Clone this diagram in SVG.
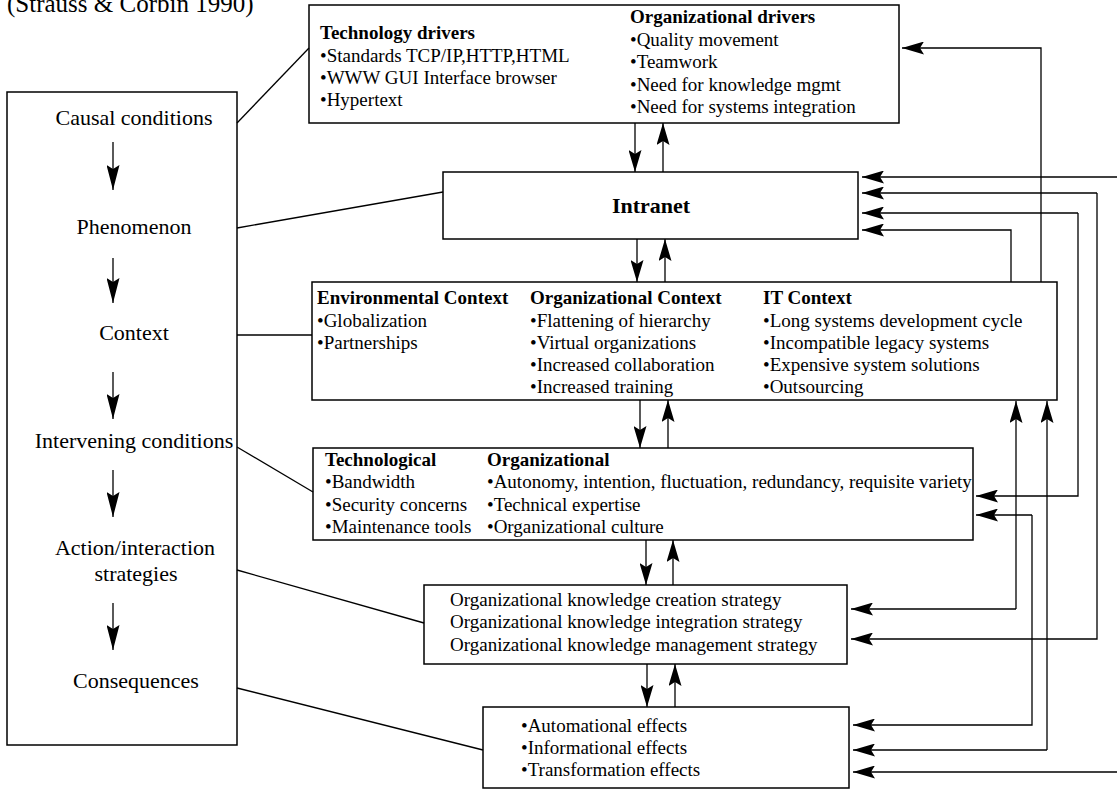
<svg xmlns="http://www.w3.org/2000/svg" width="1117" height="791" viewBox="0 0 1117 791">
<defs>
<style>
.box{fill:#fff;stroke:#000;stroke-width:1.5}
.ln{fill:none;stroke:#000;stroke-width:1.3}
.t{font-family:"Liberation Serif","Times New Roman",serif;font-size:19px;fill:#000}
.b{font-weight:bold}
.L{font-family:"Liberation Serif","Times New Roman",serif;font-size:22px;fill:#000;text-anchor:middle}
.a{marker-end:url(#ah)}
.aL{marker-end:url(#ahL)}
</style>
<marker id="ah" markerUnits="userSpaceOnUse" markerWidth="22" markerHeight="13" viewBox="0 0 22 13" refX="22" refY="6.5" orient="auto"><path d="M0,0 L22,6.5 L0,13 L4,6.5 z" fill="#000"/></marker>
<marker id="ahL" markerUnits="userSpaceOnUse" markerWidth="25" markerHeight="13" viewBox="0 0 25 13" refX="25" refY="6.5" orient="auto"><path d="M0,0 L25,6.5 L0,13 L4,6.5 z" fill="#000"/></marker>
</defs>
<rect width="1117" height="791" fill="#fff"/>
<text x="7" y="12" font-family="Liberation Serif, Times New Roman, serif" font-size="25">(Strauss &amp; Corbin 1990)</text>

<g id="paradigm">
<rect class="box" x="7" y="92" width="230" height="653"/>
<text class="L" x="134" y="125">Causal conditions</text>
<text class="L" x="134" y="234">Phenomenon</text>
<text class="L" x="134" y="340">Context</text>
<text class="L" x="134" y="448">Intervening conditions</text>
<text class="L" x="135" y="555">Action/interaction</text>
<text class="L" x="136" y="581">strategies</text>
<text class="L" x="136" y="688">Consequences</text>
<line class="ln aL" x1="113" y1="142" x2="113" y2="190"/>
<line class="ln aL" x1="113" y1="258" x2="113" y2="303"/>
<line class="ln aL" x1="113" y1="372" x2="113" y2="419"/>
<line class="ln aL" x1="113" y1="470" x2="113" y2="517"/>
<line class="ln aL" x1="113" y1="603" x2="113" y2="650"/>
</g>

<g id="drivers">
<rect class="box" x="309" y="5" width="590" height="118"/>
<text class="t b" x="320" y="39">Technology drivers</text>
<text class="t" x="320" y="62">•Standards TCP/IP,HTTP,HTML</text>
<text class="t" x="320" y="84">•WWW GUI Interface browser</text>
<text class="t" x="320" y="106">•Hypertext</text>
<text class="t b" x="630" y="23">Organizational drivers</text>
<text class="t" x="630" y="46">•Quality movement</text>
<text class="t" x="630" y="68">•Teamwork</text>
<text class="t" x="630" y="91">•Need for knowledge mgmt</text>
<text class="t" x="630" y="113">•Need for systems integration</text>
</g>

<g id="intranet">
<rect class="box" x="443" y="172" width="415" height="67"/>
<text x="651" y="213" text-anchor="middle" font-family="Liberation Serif, Times New Roman, serif" font-size="22" font-weight="bold">Intranet</text>
</g>

<g id="context">
<rect class="box" x="312" y="282" width="745" height="118"/>
<text class="t b" x="317" y="304">Environmental Context</text>
<text class="t" x="317" y="327">•Globalization</text>
<text class="t" x="317" y="349">•Partnerships</text>
<text class="t b" x="530" y="304">Organizational Context</text>
<text class="t" x="530" y="327">•Flattening of hierarchy</text>
<text class="t" x="530" y="349">•Virtual organizations</text>
<text class="t" x="530" y="371">•Increased collaboration</text>
<text class="t" x="530" y="393">•Increased training</text>
<text class="t b" x="763" y="304">IT Context</text>
<text class="t" x="763" y="327">•Long systems development cycle</text>
<text class="t" x="763" y="349">•Incompatible legacy systems</text>
<text class="t" x="763" y="371">•Expensive system solutions</text>
<text class="t" x="763" y="393">•Outsourcing</text>
</g>

<g id="intervening">
<rect class="box" x="313" y="448" width="660" height="92"/>
<text class="t b" x="325" y="466">Technological</text>
<text class="t" x="325" y="488">•Bandwidth</text>
<text class="t" x="325" y="511">•Security concerns</text>
<text class="t" x="325" y="533">•Maintenance tools</text>
<text class="t b" x="487" y="466">Organizational</text>
<text class="t" x="487" y="488">•Autonomy, intention, fluctuation, redundancy, requisite variety</text>
<text class="t" x="487" y="511">•Technical expertise</text>
<text class="t" x="487" y="533">•Organizational culture</text>
</g>

<g id="strategies">
<rect class="box" x="424" y="585" width="423" height="79"/>
<text class="t" x="450" y="606">Organizational knowledge creation strategy</text>
<text class="t" x="450" y="628">Organizational knowledge integration strategy</text>
<text class="t" x="450" y="651">Organizational knowledge management strategy</text>
</g>

<g id="consequences">
<rect class="box" x="483" y="707" width="366" height="81"/>
<text class="t" x="521" y="732">•Automational effects</text>
<text class="t" x="521" y="754">•Informational effects</text>
<text class="t" x="521" y="776">•Transformation effects</text>
</g>

<g id="connectors">
<line class="ln" x1="237" y1="123" x2="309" y2="48"/>
<line class="ln" x1="237" y1="228" x2="443" y2="192"/>
<line class="ln" x1="237" y1="335" x2="312" y2="335"/>
<line class="ln" x1="237" y1="447" x2="313" y2="492"/>
<line class="ln" x1="237" y1="570" x2="424" y2="623"/>
<line class="ln" x1="237" y1="688" x2="483" y2="750"/>

<line class="ln a" x1="635" y1="123" x2="635" y2="172"/>
<line class="ln a" x1="663" y1="172" x2="663" y2="123"/>
<line class="ln a" x1="637" y1="239" x2="637" y2="282"/>
<line class="ln a" x1="665" y1="282" x2="665" y2="239"/>
<line class="ln a" x1="640" y1="400" x2="640" y2="448"/>
<line class="ln a" x1="668" y1="448" x2="668" y2="400"/>
<line class="ln a" x1="646" y1="540" x2="646" y2="585"/>
<line class="ln a" x1="673" y1="585" x2="673" y2="540"/>
<line class="ln a" x1="647" y1="664" x2="647" y2="707"/>
<line class="ln a" x1="675" y1="707" x2="675" y2="664"/>

<path class="ln a" d="M1041,282 V48 H902"/>
<path class="ln a" d="M1117,177 H862"/>
<path class="ln a" d="M1097,193 H862"/>
<path class="ln a" d="M1097,193 V639 H851"/>
<path class="ln a" d="M1078,213 H862"/>
<path class="ln a" d="M1078,213 V496 H976"/>
<path class="ln a" d="M1011,282 V230 H862"/>
<path class="ln a" d="M1032,515 H976"/>
<path class="ln a" d="M1032,515 V725 H853"/>
<path class="ln a" d="M1016,609 V401"/>
<path class="ln a" d="M1016,609 H851"/>
<path class="ln a" d="M1047,750 V401"/>
<path class="ln a" d="M1047,750 H853"/>
<path class="ln a" d="M1117,772 H853"/>
</g>
</svg>
